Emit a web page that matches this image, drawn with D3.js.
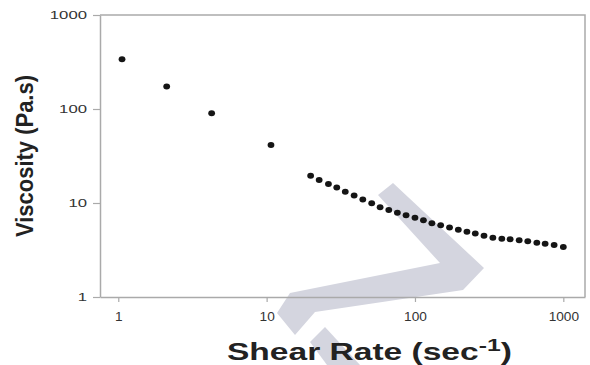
<!DOCTYPE html>
<html>
<head>
<meta charset="utf-8">
<script src="https://cdn.jsdelivr.net/npm/d3@7"></script>
<style>
  html, body { margin: 0; padding: 0; background: #fff; }
  svg { display: block; }
  .tick text { font-family: "Liberation Sans", Arial, sans-serif; fill: #333; }
  .title { font-family: "Liberation Sans", Arial, sans-serif; font-weight: bold; fill: #222; }
</style>
</head>
<body>
<div id="chart"></div>
<script>
// values
const shearRate = [1.06, 2.12, 4.26, 10.7,
  19.8, 22.6, 26.1, 29.7, 33.9, 38.9, 44.5, 51.1, 58.2, 66.6,
  76.1, 87.1, 100, 114, 130, 149, 171, 196, 224, 255,
  292, 335, 385, 438, 504, 576, 663, 754, 867, 1000];
const viscosity = [338, 173, 90, 41.4,
  19.5, 17.6, 15.9, 14.6, 13.2, 12.0, 10.9, 9.93, 9.0, 8.43,
  7.89, 7.40, 6.98, 6.55, 6.1, 5.79, 5.49, 5.2, 4.94, 4.74,
  4.48, 4.27, 4.17, 4.11, 4.01, 3.91, 3.78, 3.69, 3.57, 3.40];
const xTicks = [1, 10, 100, 1000];
const yTicks = [1, 10, 100, 1000];

const W = 590, H = 365;
const margin = { top: 15, right: 5, bottom: 68, left: 100 };
const width = W - margin.left - margin.right;
const height = H - margin.top - margin.bottom;

const svg = d3.select('#chart').append('svg')
  .attr('width', W)
  .attr('height', H);

// grey watermark behind the plot (decoration, not data)
svg.append('g').attr('fill', '#d4d5df')
  .selectAll('polygon')
  .data([
    [[393, 183], [484, 268], [463, 290], [315, 312], [295, 335], [277, 313], [290, 293], [440, 263], [378, 195]],
    [[325, 327], [360, 365], [327, 365], [310, 342]]
  ])
  .enter().append('polygon')
    .attr('points', d => d.map(p => p.join(',')).join(' '));

const g = svg.append('g')
  .attr('transform', 'translate(' + margin.left + ',' + margin.top + ')');

const xScale = d3.scaleLog().domain([0.753, 1400]).range([0, width]);
const yScale = d3.scaleLog().domain([1, 1000]).range([height, 0]);

const xAxis = d3.axisBottom(xScale)
  .tickValues(xTicks)
  .tickFormat(d3.format('d'))
  .tickSize(5)
  .tickSizeOuter(0)
  .tickPadding(10);
const yAxis = d3.axisLeft(yScale)
  .tickValues(yTicks)
  .tickFormat(d3.format('d'))
  .tickSize(7)
  .tickSizeOuter(0)
  .tickPadding(6);

// top and right frame lines
g.append('path')
  .attr('d', 'M0,0H' + width + 'V' + height)
  .attr('fill', 'none')
  .attr('stroke', '#aaa')
  .attr('stroke-width', 1.5);

const gx = g.append('g')
  .attr('transform', 'translate(0,' + height + ')')
  .call(xAxis);
const gy = g.append('g').call(yAxis);

[gx, gy].forEach(a => {
  a.select('.domain').attr('stroke', '#aaa').attr('stroke-width', 1.5);
  a.selectAll('.tick line').attr('stroke', '#aaa').attr('stroke-width', 1.2);
});
gx.selectAll('.tick text')
  .style('font-size', '12px')
  .attr('textLength', d => String(d).length * 7.6)
  .attr('lengthAdjust', 'spacingAndGlyphs');
gy.selectAll('.tick text')
  .style('font-size', '10.5px')
  .attr('textLength', d => String(d).length * 9.3)
  .attr('lengthAdjust', 'spacingAndGlyphs');

g.append('g').selectAll('.dot')
  .data(shearRate)
  .enter().append('ellipse')
    .attr('class', 'dot')
    .attr('cx', d => xScale(d))
    .attr('cy', (d, i) => yScale(viscosity[i]))
    .attr('rx', 3.4)
    .attr('ry', 3)
    .attr('fill', '#151515');

// axis titles
svg.append('text')
  .attr('class', 'title')
  .attr('transform', 'translate(33,156) rotate(-90)')
  .attr('text-anchor', 'middle')
  .style('font-size', '24px')
  .attr('textLength', 162)
  .attr('lengthAdjust', 'spacingAndGlyphs')
  .text('Viscosity (Pa.s)');

const xt = svg.append('text')
  .attr('class', 'title')
  .style('font-size', '23px');
xt.append('tspan').text('Shear Rate (sec');
xt.append('tspan').attr('dy', -9).style('font-size', '17px').text('-1');
xt.append('tspan').attr('dy', 9).text(')');
const bw = xt.node().getBBox().width;
xt.attr('transform', 'translate(227,360) scale(' + (285 / bw) + ',1)');
</script>
</body>
</html>
